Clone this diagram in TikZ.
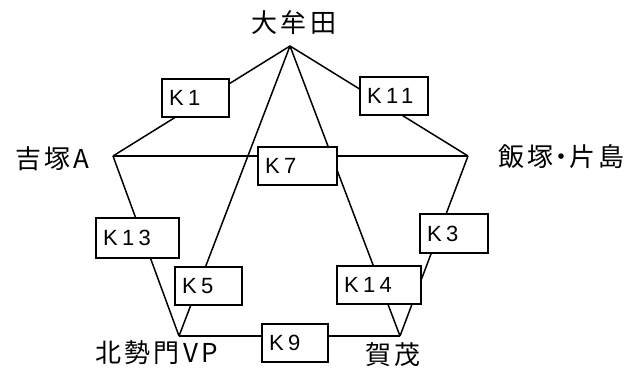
\documentclass[tikz,border=0pt]{standalone}
\usepackage{fontspec}
\newfontfamily\jpfont[LetterSpace=12]{Noto Sans CJK JP}
\newfontfamily\kfont[LetterSpace=20]{Liberation Sans}
\tikzset{
  edge/.style={line width=1.5pt, line join=round},
  kbox/.style={draw, line width=1.5pt, fill=white, inner xsep=7pt, inner ysep=0pt,
    minimum height=38pt, align=left, font=\kfont\fontsize{22}{24}\selectfont,
    text height=15.5pt, text depth=0pt},
  station/.style={inner sep=0pt, font=\jpfont\fontsize{26}{30}\selectfont}
}
\begin{document}
\begin{tikzpicture}[x=1pt, y=-1pt]
\useasboundingbox (0,0) rectangle (627,372);
% vertices
\coordinate (T) at (290,46);
\coordinate (L) at (113,156);
\coordinate (R) at (468,156);
\coordinate (BL) at (179,336);
\coordinate (BR) at (400,336);
% connectors
\draw[edge] (T) -- (L);
\draw[edge] (T) -- (R);
\draw[edge] (L) -- (R);
\draw[edge] (L) -- (BL);
\draw[edge] (R) -- (BR);
\draw[edge] (BL) -- (BR);
\draw[edge] (T) -- (BL);
\draw[edge] (T) -- (BR);
% label boxes
\node[kbox, text width=53pt] (k1) at (195.5,98) {K1};
\node[kbox, text width=54pt] (k11) at (394,96) {K11};
\node[kbox, text width=65pt] (k7) at (297.5,166) {K7};
\node[kbox, text width=69pt, minimum height=40pt] (k13) at (137.5,238) {K13};
\node[kbox, text width=53pt] (k5) at (208.5,286) {K5};
\node[kbox, text width=52pt] (k9) at (295,343) {K9};
\node[kbox, text width=54pt, minimum height=39pt] (k3) at (454,233.5) {K3};
\node[kbox, text width=70pt] (k14) at (379,285) {K14};
% station names
\node[station] (oomuta) at (294,23) {大牟田};
\node[station] (yoshizuka) at (52.5,158.7) {吉塚A};
\node[station] (iizuka) at (561.7,156.7) {飯塚\kern-5pt・\kern-5pt片島};
\node[station] (kitaseimon) at (156.7,352.5) {北勢門VP};
\node[station] (kamo) at (392.8,354.3) {賀茂};
\end{tikzpicture}
\end{document}
